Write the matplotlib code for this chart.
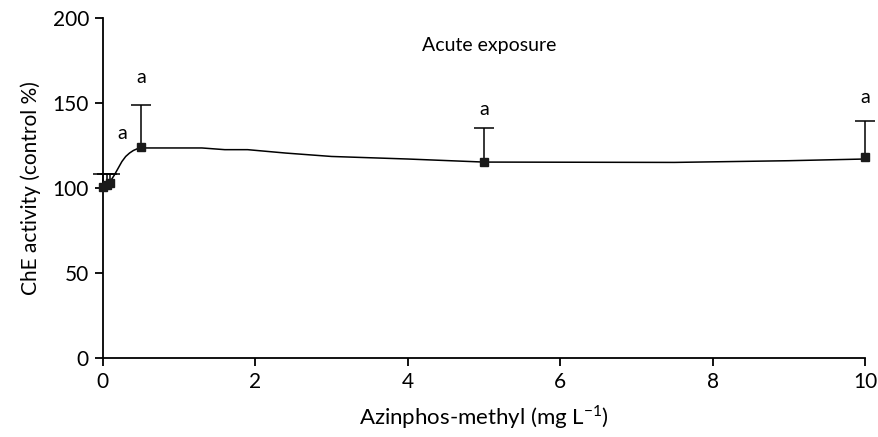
import matplotlib
matplotlib.use('Agg')
import matplotlib.pyplot as plt

plt.rcParams['font.family'] = ['Lato', 'DejaVu Sans']

# measured points (mean and upper SD)
conc = [0.0, 0.05, 0.1, 0.5, 5.0, 10.0]
activity = [100.5, 101.5, 103.0, 124.0, 115.5, 118.0]
err_up = [7.5, 6.5, 5.0, 24.5, 19.5, 21.5]
sig_x = [0.25, 0.5, 5.0, 10.0]
sig_y = [127, 160, 141, 148]
sig_lab = ['a', 'a', 'a', 'a']

# fitted curve
curve_x = [0.0, 0.05, 0.1, 0.15, 0.2, 0.25, 0.3, 0.35, 0.4, 0.45, 0.5, 0.7, 1.3,
           1.6, 1.9, 2.4, 3.0, 4.0, 5.0, 7.5, 9.0, 10.0]
curve_y = [100.5, 102, 104, 107.5, 111.5, 115.5, 118.5, 120.5, 122, 123, 123.5, 123.5, 123.5,
           122.5, 122.5, 120.5, 118.5, 117, 115.2, 115, 116, 117]

fig = plt.figure(figsize=(8.79, 4.37), dpi=100)
ax = fig.add_axes([0.117, 0.181, 0.867, 0.778])

ax.plot(curve_x, curve_y, color='black', lw=1.1)
tops = [a + e for a, e in zip(activity, err_up)]
ax.vlines(conc, activity, tops, color='black', lw=1.1, clip_on=False)
ax.plot(conc, tops, '_', color='black', markersize=14, mew=1.1, clip_on=False)
ax.plot(conc, activity, 's', color='#1a1a1a', markersize=5.5, clip_on=False, zorder=5)

for x, y, s in zip(sig_x, sig_y, sig_lab):
    ax.text(x, y, s, ha='center', va='bottom', fontsize=14)

ax.text(5.07, 184, 'Acute exposure', ha='center', va='center', fontsize=14)

ax.set_xlim(0, 10)
ax.set_ylim(0, 200)
ax.set_xticks([0, 2, 4, 6, 8, 10])
ax.set_yticks([0, 50, 100, 150, 200])
ax.spines['top'].set_visible(False)
ax.spines['right'].set_visible(False)
for sp in ('left', 'bottom'):
    ax.spines[sp].set_linewidth(1.3)
ax.tick_params(direction='out', length=6, width=1.3, labelsize=15, pad=4)

ax.set_xlabel('Azinphos-methyl (mg L$^{\\mathregular{-1}}$)', fontsize=16, labelpad=8)
ax.set_ylabel('ChE activity (control %)', fontsize=15, labelpad=8)

fig.savefig('out.png', dpi=100)
